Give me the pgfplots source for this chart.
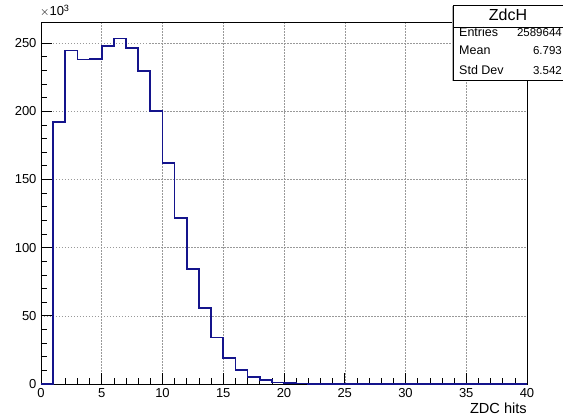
\documentclass[border=0pt]{standalone}
\usepackage{fontspec}
\setmainfont{Liberation Sans}
\usepackage{pgfplots}
\pgfplotsset{compat=1.18}
\definecolor{histblue}{RGB}{20,20,140}
\begin{document}
\begin{tikzpicture}[x=1pt,y=1pt]
\useasboundingbox (0,0) rectangle (563,419);
\clip (0,0) rectangle (563,419);
\begin{axis}[
  at={(41pt,35pt)}, anchor=origin,
  scale only axis, width=486pt, height=362pt,
  xmin=0, xmax=40, ymin=0, ymax=265.4,
  xtick={0,5,...,40}, minor x tick num=4,
  ytick={0,50,...,250}, minor y tick num=4,
  xtick pos=bottom, ytick pos=left,
  tick align=inside,
  major tick length=11pt, minor tick length=6pt,
  every tick/.style={black, line width=0.6pt},
  grid=major,
  major grid style={gray!80, line width=0.5pt, dash pattern=on 1.5pt off 1.5pt},
  axis line style={black, line width=0.8pt},
  /pgf/number format/assume math mode=true,
  tick label style={font=\fontsize{13}{15}\selectfont},
  xticklabel style={yshift=-1pt},
  yticklabel style={xshift=-1pt},
  clip=false,
]
\addplot[const plot, histblue, line width=1.7pt] coordinates {
(0,0) (1,192.1) (2,244.4) (3,237.8) (4,238.5) (5,247.6) (6,253.2) (7,246.1)
(8,229.7) (9,199.9) (10,161.8) (11,121.7) (12,84.3) (13,55.5) (14,34.0)
(15,19.3) (16,10.3) (17,5.1) (18,2.7) (19,1.2) (20,0.6) (21,0.3) (22,0.15)
(23,0.08) (24,0.04) (25,0.02) (26,0) (27,0) (28,0) (29,0) (30,0) (31,0)
(32,0) (33,0) (34,0) (35,0) (36,0) (37,0) (38,0) (39,0) (40,0)
};
\end{axis}
% x10^3 label
\node[anchor=base west, font=\fontsize{13}{15}\selectfont, inner sep=0pt] at (40,403) {$\times$10\textsuperscript{3}};
% x axis label
\node[anchor=base east, font=\fontsize{14.6}{16}\selectfont, inner sep=0pt] at (527,5) {ZDC hits};
% stats box
\fill[gray!60] (452,338) rectangle (575,413);
\filldraw[fill=white, draw=black, line width=0.6pt] (453,339) rectangle (575,414);
\draw[line width=0.6pt] (453,392) -- (575,392);
\node[anchor=base, font=\fontsize{16}{18}\selectfont, inner sep=0pt] at (508,398) {ZdcH};
\node[anchor=base west, font=\fontsize{12.5}{14}\selectfont, inner sep=0pt] at (459,382) {Entries};
\node[anchor=base west, font=\fontsize{12.5}{14}\selectfont, inner sep=0pt] at (459,364) {Mean};
\node[anchor=base west, font=\fontsize{12.5}{14}\selectfont, inner sep=0pt] at (459,344) {Std Dev};
\node[anchor=base east, font=\fontsize{11.5}{14}\selectfont, inner sep=0pt] at (562,382) {2589644};
\node[anchor=base east, font=\fontsize{11.5}{14}\selectfont, inner sep=0pt] at (562,364) {6.793};
\node[anchor=base east, font=\fontsize{11.5}{14}\selectfont, inner sep=0pt] at (562,344) {3.542};
\end{tikzpicture}
\end{document}
